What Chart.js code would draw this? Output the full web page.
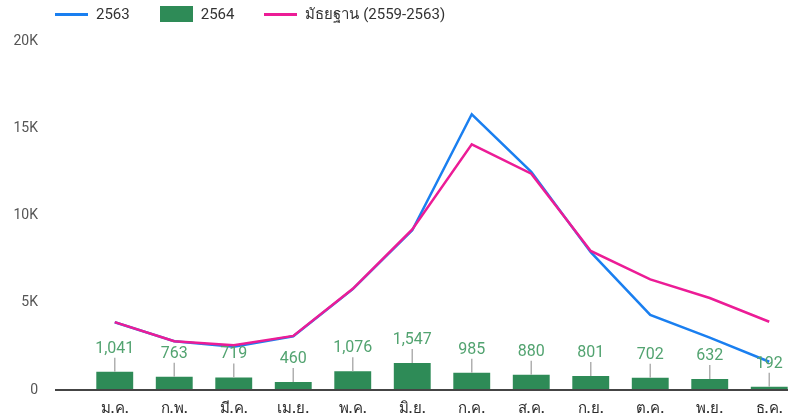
<!DOCTYPE html>
<html>
<head>
<meta charset="utf-8">
<script src="https://cdn.jsdelivr.net/npm/chart.js@4.4.0/dist/chart.umd.min.js"></script>
<style>
  html, body { margin: 0; padding: 0; background: #fff; overflow: hidden; width: 788px; height: 419px; }
  #wrap { position: absolute; left: 0; top: 0; width: 815px; height: 419px; }
  #legend { position: absolute; left: 55px; top: 4px; display: flex; align-items: center; font: 15px Roboto, sans-serif; color: #333; z-index: 2; }
  #legend .item { display: flex; align-items: center; margin-right: 30px; height: 20px; }
  #legend .swatch { width: 33px; margin-right: 8px; }
  #legend .line { height: 3px; }
  #legend .box { height: 16px; }
</style>
</head>
<body>
<div id="legend"></div>
<div id="wrap"><canvas id="thisIsTheCasesChart" width="815" height="419"></canvas></div>
<script>
// month labels (Thai abbreviations)
const months = ['ม.ค.', 'ก.พ.', 'มี.ค.', 'เม.ย.', 'พ.ค.', 'มิ.ย.', 'ก.ค.', 'ส.ค.', 'ก.ย.', 'ต.ค.', 'พ.ย.', 'ธ.ค.'];

// series values
const cases2563 = [3880, 2790, 2480, 3080, 5780, 9150, 15800, 12500, 7900, 4300, 3000, 1620];
const cases2564 = [1041, 763, 719, 460, 1076, 1547, 985, 880, 801, 702, 632, 192];
const median2559to2563 = [3890, 2800, 2560, 3100, 5800, 9200, 14080, 12400, 7970, 6340, 5270, 3910];

const seriesNames = ['2563', '2564', 'มัธยฐาน (2559-2563)'];
const yTicks = [0, 5000, 10000, 15000, 20000];

const BLUE = '#1a7ff0';
const GREEN = '#2e8b57';
const PINK = '#ec1c96';

function buildLegend() {
    const target = document.getElementById('legend');
    const rows = [
        { label: seriesNames[0], color: BLUE, kind: 'line' },
        { label: seriesNames[1], color: GREEN, kind: 'box' },
        { label: seriesNames[2], color: PINK, kind: 'line' }
    ];
    target.innerHTML = rows.map(row => `
        <div class="item">
            <span class="swatch ${row.kind}" style="background-color: ${row.color}"></span>
            <span>${row.label}</span>
        </div>
    `).join('');
}

// value labels with a little leader line above each bar
const barLabelPlugin = {
    id: 'barLabels',
    afterDatasetsDraw: (chart) => {
        const { ctx } = chart;
        const meta = chart.getDatasetMeta(1);
        ctx.save();
        ctx.font = '16px Roboto, sans-serif';
        ctx.textAlign = 'center';
        ctx.textBaseline = 'middle';
        meta.data.forEach((bar, i) => {
            ctx.strokeStyle = '#b0b0b0';
            ctx.lineWidth = 1.5;
            ctx.beginPath();
            ctx.moveTo(bar.x, bar.y);
            ctx.lineTo(bar.x, bar.y - 14);
            ctx.stroke();
            ctx.fillStyle = '#52a370';
            ctx.fillText(cases2564[i].toLocaleString('en-US'), bar.x, bar.y - 23);
        });
        ctx.restore();
    }
};

// zero baseline, reaching a bit left of the plot area
const baselinePlugin = {
    id: 'baseline',
    afterDatasetsDraw: (chart) => {
        const { ctx, chartArea, scales } = chart;
        const y = scales.y.getPixelForValue(0);
        ctx.save();
        ctx.strokeStyle = '#444';
        ctx.lineWidth = 2;
        ctx.beginPath();
        ctx.moveTo(chartArea.left - 30, y);
        ctx.lineTo(chartArea.right, y);
        ctx.stroke();
        ctx.restore();
    }
};

const config = {
    data: {
        labels: months,
        datasets: [
            {
                type: 'line',
                label: seriesNames[0],
                data: cases2563,
                borderColor: BLUE,
                borderWidth: 2.5,
                pointRadius: 0,
                tension: 0,
                order: 2
            },
            {
                type: 'bar',
                label: seriesNames[1],
                data: cases2564,
                backgroundColor: GREEN,
                barPercentage: 0.62,
                categoryPercentage: 1,
                order: 3
            },
            {
                type: 'line',
                label: seriesNames[2],
                data: median2559to2563,
                borderColor: PINK,
                borderWidth: 2.5,
                pointRadius: 0,
                tension: 0,
                order: 1
            }
        ]
    },
    options: {
        responsive: false,
        animation: false,
        layout: { padding: { left: 13, right: 16, top: 41, bottom: 0 } },
        plugins: {
            legend: { display: false },
            tooltip: { enabled: false }
        },
        scales: {
            x: {
                grid: { display: false, drawTicks: false },
                border: { display: false },
                afterFit: (axis) => { axis.height = 29; },
                ticks: {
                    color: '#2b2b2b',
                    font: { family: 'Roboto, sans-serif', size: 15, weight: '500' },
                    padding: 10,
                    maxRotation: 0
                }
            },
            y: {
                min: 0,
                max: 20000,
                afterBuildTicks: (axis) => { axis.ticks = yTicks.map(v => ({ value: v })); },
                afterFit: (axis) => {
                    // the big tick padding only pushes labels left, not the plot down
                    axis.width = 72;
                    axis.paddingTop = 8;
                    axis.paddingBottom = 8;
                },
                grid: { display: false, drawTicks: false },
                border: { display: false },
                ticks: {
                    color: '#555',
                    font: { family: 'Roboto, sans-serif', size: 14 },
                    padding: 47,
                    callback: (v) => v === 0 ? '0' : (v / 1000) + 'K'
                }
            }
        }
    },
    plugins: [baselinePlugin, barLabelPlugin]
};

buildLegend();
const ctx = document.getElementById('thisIsTheCasesChart').getContext('2d');
new Chart(ctx, config);
</script>
</body>
</html>
